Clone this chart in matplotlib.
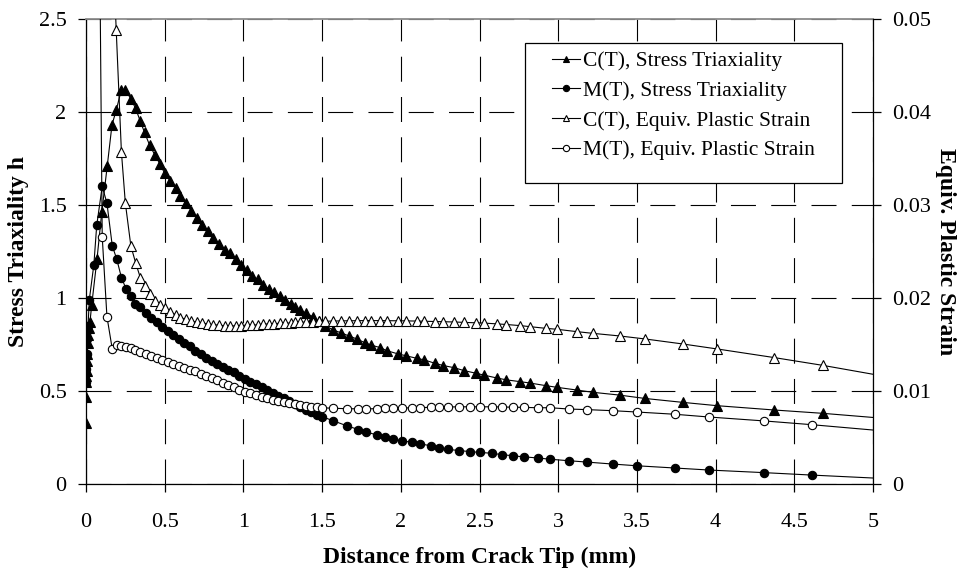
import matplotlib
matplotlib.use("Agg")
import numpy as np
import matplotlib.pyplot as plt
from matplotlib.patches import Rectangle
from matplotlib.ticker import FuncFormatter

# ---- data ----
# C(T) specimen nodes (mm) - shared by triaxiality and plastic strain
ct_x = [0.000, 0.001, 0.002, 0.003, 0.004, 0.006, 0.008, 0.010, 0.013, 0.017, 0.025, 0.036,
        0.070, 0.100, 0.135, 0.165,
        0.192, 0.225, 0.250, 0.285, 0.315, 0.345, 0.372, 0.405, 0.437, 0.470,
        0.500, 0.535, 0.570, 0.600, 0.635, 0.670, 0.705, 0.740, 0.775, 0.810, 0.845, 0.880, 0.915, 0.950, 0.985,
        1.020, 1.055, 1.090, 1.125, 1.160, 1.195, 1.230, 1.265, 1.300, 1.330,
        1.360, 1.400, 1.440, 1.480, 1.520,
        1.570, 1.620, 1.670, 1.720, 1.770, 1.810, 1.870, 1.910, 1.980, 2.030,
        2.100, 2.150, 2.220, 2.270, 2.340, 2.400, 2.480, 2.530, 2.610, 2.670,
        2.760, 2.820, 2.920, 2.990, 3.120, 3.220, 3.390, 3.550, 3.790, 4.010,
        4.370, 4.680, 5.300]
ct_triax = [0.33, 0.47, 0.55, 0.58, 0.61, 0.66, 0.70, 0.76, 0.80, 0.84, 0.87, 0.96,
            1.21, 1.46, 1.71, 1.93,
            2.01, 2.12, 2.12, 2.07, 2.02, 1.95, 1.89, 1.82, 1.77, 1.72,
            1.67, 1.63, 1.59, 1.55, 1.51, 1.47, 1.43, 1.39, 1.36, 1.32, 1.29, 1.26, 1.24, 1.21, 1.18,
            1.15, 1.12, 1.10, 1.07, 1.05, 1.03, 1.01, 0.99, 0.97, 0.95,
            0.935, 0.918, 0.90, 0.875, 0.851,
            0.828, 0.813, 0.796, 0.78, 0.76, 0.747, 0.733, 0.717, 0.70, 0.69,
            0.676, 0.667, 0.648, 0.637, 0.625, 0.61, 0.595, 0.585, 0.57, 0.56,
            0.55, 0.543, 0.529, 0.52, 0.505, 0.493, 0.478, 0.46, 0.439, 0.421,
            0.398, 0.38, 0.337]
ct_strain = [1.60, 1.50, 1.40, 1.30, 1.20, 1.10, 1.00, 0.90, 0.80, 0.70, 0.60, 0.50,
             0.30, 0.20, 0.12, 0.06,
             0.0488, 0.0357, 0.0302, 0.0256, 0.0238, 0.0222, 0.0213, 0.0204, 0.0197, 0.0192,
             0.0189, 0.0185, 0.0182, 0.0179, 0.0177, 0.0175, 0.0174, 0.0173, 0.0172, 0.0171, 0.0171, 0.0170, 0.0170, 0.0170, 0.0170,
             0.0171, 0.0171, 0.0171, 0.0172, 0.0172, 0.0172, 0.0173, 0.0173, 0.0173, 0.0174,
             0.0174, 0.0174, 0.0174, 0.0175, 0.0175,
             0.01752, 0.01754, 0.01755, 0.01756, 0.01757, 0.01757, 0.01757, 0.01756, 0.01755, 0.01754,
             0.01752, 0.0175, 0.01747, 0.01745, 0.01742, 0.01738, 0.01733, 0.0173, 0.01722, 0.01715,
             0.01703, 0.01692, 0.01674, 0.01664, 0.01638, 0.0162, 0.01592, 0.0156, 0.01506, 0.01452,
             0.0136, 0.01276, 0.0109]

# M(T) specimen nodes (mm)
mt_x = [0.000, 0.002, 0.004, 0.006, 0.009, 0.013, 0.021, 0.050, 0.068, 0.103, 0.133, 0.167,
        0.195, 0.225, 0.254, 0.284, 0.310,
        0.345, 0.380, 0.415, 0.450, 0.485, 0.520, 0.555, 0.590, 0.625, 0.660,
        0.695, 0.730, 0.765, 0.800, 0.835, 0.870, 0.905, 0.940, 0.975, 1.010,
        1.045, 1.080, 1.115, 1.150, 1.185, 1.220, 1.255, 1.290, 1.325, 1.360,
        1.395, 1.430, 1.465, 1.500, 1.570, 1.660, 1.730, 1.780, 1.850, 1.900,
        1.950, 2.010, 2.070, 2.120, 2.190, 2.240, 2.300, 2.370, 2.440, 2.500,
        2.580, 2.640, 2.710, 2.780, 2.870, 2.950, 3.070, 3.180, 3.350, 3.500,
        3.740, 3.960, 4.310, 4.610, 5.300]
mt_triax = [0.55, 0.62, 0.70, 0.78, 0.82, 0.85, 0.99, 1.18, 1.39, 1.60, 1.51, 1.28,
            1.21, 1.11, 1.05, 1.01, 0.97,
            0.95, 0.92, 0.895, 0.87, 0.845, 0.825, 0.80, 0.78, 0.76, 0.74,
            0.715, 0.70, 0.68, 0.66, 0.645, 0.63, 0.615, 0.60, 0.58, 0.565,
            0.55, 0.535, 0.52, 0.505, 0.49, 0.475, 0.46, 0.445, 0.43, 0.415,
            0.40, 0.385, 0.372, 0.362, 0.34, 0.312, 0.293, 0.28, 0.263, 0.251,
            0.24, 0.232, 0.224, 0.217, 0.205, 0.196, 0.186, 0.18, 0.174, 0.17,
            0.165, 0.158, 0.152, 0.146, 0.14, 0.133, 0.125, 0.118, 0.107, 0.098,
            0.086, 0.075, 0.061, 0.048, 0.02]
mt_strain = [0.90, 0.80, 0.70, 0.60, 0.50, 0.40, 0.30, 0.15, 0.095, 0.0266, 0.0180, 0.0145,
             0.0150, 0.01484, 0.0147, 0.0146, 0.01444,
             0.01424, 0.0140, 0.0138, 0.01358, 0.01336, 0.01314, 0.01292, 0.01272, 0.0125, 0.0123,
             0.0121, 0.01188, 0.01164, 0.0114, 0.01114, 0.0109, 0.01064, 0.0104, 0.01016, 0.00994,
             0.00974, 0.00956, 0.00938, 0.0092, 0.00906, 0.00892, 0.0088, 0.0087, 0.0086, 0.0085,
             0.0084, 0.00832, 0.00826, 0.0082, 0.00814, 0.0081, 0.00808, 0.00808, 0.0081, 0.00812,
             0.00814, 0.00816, 0.0082, 0.00822, 0.00824, 0.00826, 0.00828, 0.0083, 0.0083, 0.0083,
             0.0083, 0.00828, 0.00826, 0.00824, 0.0082, 0.0082, 0.00806, 0.008, 0.00788, 0.00774,
             0.0075, 0.0072, 0.00678, 0.00638, 0.00536]

x_ticks = [0, 0.5, 1, 1.5, 2, 2.5, 3, 3.5, 4, 4.5, 5]
h_ticks = [0, 0.5, 1, 1.5, 2, 2.5]
eps_ticks = [0, 0.01, 0.02, 0.03, 0.04, 0.05]

labels = ["C(T), Stress Triaxiality", "M(T), Stress Triaxiality",
          "C(T), Equiv. Plastic Strain", "M(T), Equiv. Plastic Strain"]

plt.rcParams['font.family'] = ['Liberation Serif', 'DejaVu Serif']
plt.rcParams['lines.scale_dashes'] = False

fig = plt.figure(figsize=(9.6, 5.72), dpi=100)
ax = fig.add_axes([86 / 960, 1 - 484 / 572, 787 / 960, 465 / 572])
ax2 = ax.twinx()

ax.set_xlim(0, 5)
ax.set_ylim(0, 2.5)
ax2.set_ylim(0, 0.05)

fmt = FuncFormatter(lambda v, p: f"{v:g}")
ax.set_xticks(x_ticks)
ax.set_yticks(h_ticks)
ax2.set_yticks(eps_ticks)
ax.xaxis.set_major_formatter(fmt)
ax.yaxis.set_major_formatter(fmt)
ax2.yaxis.set_major_formatter(fmt)

ax.set_axisbelow(True)
ax.grid(True, color="black", lw=0.8, linestyle=(0, (18, 11)))

line_kw = dict(color="black", lw=0.8, mec="black", mew=0.8)
l1, = ax.plot(ct_x, ct_triax, marker="^", ms=6.5, mfc="black", **line_kw)
l2, = ax.plot(mt_x, mt_triax, marker="o", ms=6, mfc="black", **line_kw)
l3, = ax2.plot(ct_x, ct_strain, marker="^", ms=6.5, mfc="white", **line_kw)
l4, = ax2.plot(mt_x, mt_strain, marker="o", ms=6, mfc="white", **line_kw)

for s in ["left", "bottom"]:
    ax.spines[s].set_color("black")
    ax.spines[s].set_linewidth(0.9)
ax.spines["right"].set_visible(False)
ax.spines["top"].set_color("0.55")
ax.spines["top"].set_linewidth(1.3)
for s in ["left", "bottom", "top"]:
    ax2.spines[s].set_visible(False)
ax2.spines["right"].set_color("black")
ax2.spines["right"].set_linewidth(0.9)

ax.tick_params(axis="both", direction="out", length=6, width=0.9, labelsize=16)
ax.tick_params(axis="y", pad=8)
ax.tick_params(axis="x", pad=15)
ax2.tick_params(axis="y", direction="out", length=6, width=0.9, labelsize=16, pad=8)

ax.set_xlabel("Distance from Crack Tip (mm)", fontsize=17, fontweight="bold", va="center")
ax.xaxis.set_label_coords(0.5, -0.157)
ax.set_ylabel("Stress Triaxiality h", fontsize=17, fontweight="bold", va="center")
ax.yaxis.set_label_coords(-0.086, 0.5)
ax2.set_ylabel("Equiv. Plastic Strain", fontsize=17, fontweight="bold", rotation=270, va="center")
ax2.yaxis.set_label_coords(1.0915, 0.5)

# legend box (drawn separately so the entries can sit inset like the original)
box = Rectangle((525 / 960, 1 - 183 / 572), 317 / 960, 140 / 572, transform=fig.transFigure,
                facecolor="white", edgecolor="black", lw=0.9, zorder=4, clip_on=False)
ax2.add_patch(box)
leg = ax2.legend([l1, l2, l3, l4], labels, loc="upper left", bbox_to_anchor=(0.592, 0.931),
                 frameon=False, fontsize=15.5, handlelength=1.3, handletextpad=0.15,
                 labelspacing=0.45, borderaxespad=0, borderpad=0, markerscale=0.75)
leg.set_zorder(5)

fig.savefig("out.png", dpi=100)
